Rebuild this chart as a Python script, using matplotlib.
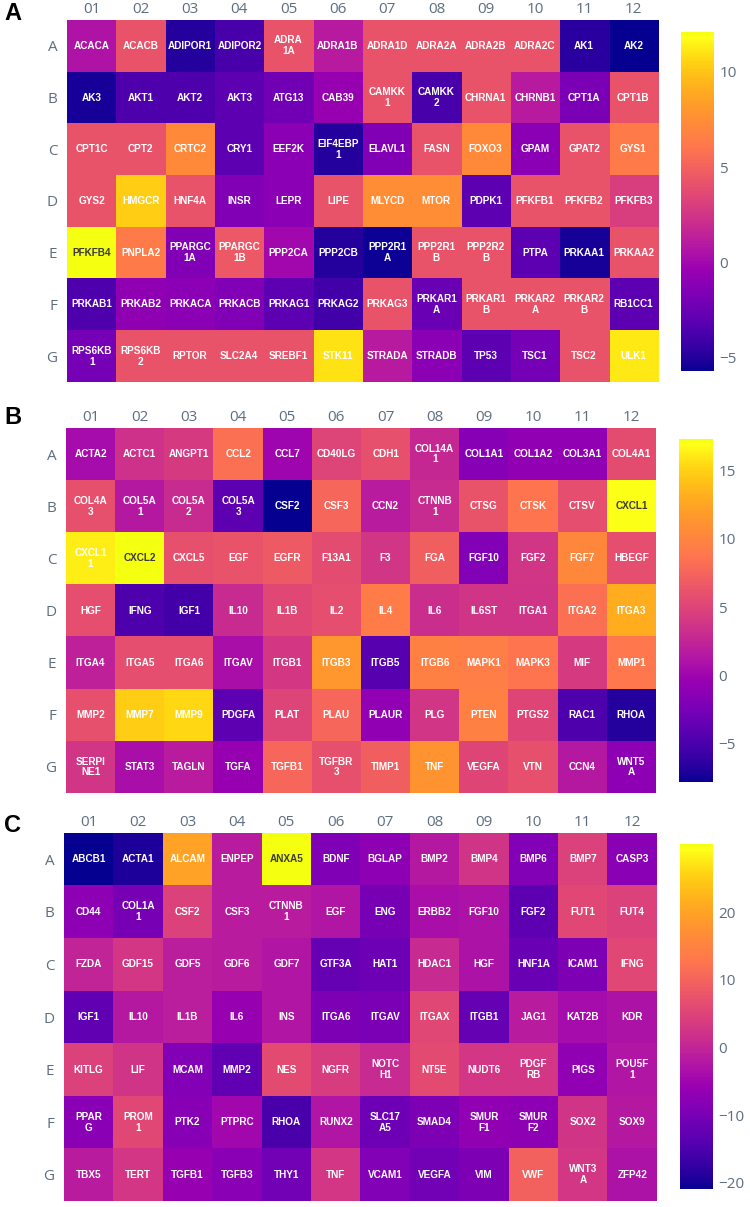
import matplotlib
matplotlib.use("Agg")
import matplotlib.pyplot as plt
import matplotlib.colors as mcolors
import numpy as np

W, H = 750, 1207

col_labels = ["01", "02", "03", "04", "05", "06", "07", "08", "09", "10", "11", "12"]
row_labels = ["A", "B", "C", "D", "E", "F", "G"]

genes_a = [
    ["ACACA", "ACACB", "ADIPOR1", "ADIPOR2", "ADRA\n1A", "ADRA1B", "ADRA1D", "ADRA2A", "ADRA2B", "ADRA2C", "AK1", "AK2"],
    ["AK3", "AKT1", "AKT2", "AKT3", "ATG13", "CAB39", "CAMKK\n1", "CAMKK\n2", "CHRNA1", "CHRNB1", "CPT1A", "CPT1B"],
    ["CPT1C", "CPT2", "CRTC2", "CRY1", "EEF2K", "EIF4EBP\n1", "ELAVL1", "FASN", "FOXO3", "GPAM", "GPAT2", "GYS1"],
    ["GYS2", "HMGCR", "HNF4A", "INSR", "LEPR", "LIPE", "MLYCD", "MTOR", "PDPK1", "PFKFB1", "PFKFB2", "PFKFB3"],
    ["PFKFB4", "PNPLA2", "PPARGC\n1A", "PPARGC\n1B", "PPP2CA", "PPP2CB", "PPP2R1\nA", "PPP2R1\nB", "PPP2R2\nB", "PTPA", "PRKAA1", "PRKAA2"],
    ["PRKAB1", "PRKAB2", "PRKACA", "PRKACB", "PRKAG1", "PRKAG2", "PRKAG3", "PRKAR1\nA", "PRKAR1\nB", "PRKAR2\nA", "PRKAR2\nB", "RB1CC1"],
    ["RPS6KB\n1", "RPS6KB\n2", "RPTOR", "SLC2A4", "SREBF1", "STK11", "STRADA", "STRADB", "TP53", "TSC1", "TSC2", "ULK1"],
]
values_a = [
    [0.6, 4.2, -5.0, -3.8, 4.2, 1.0, 4.2, 4.2, 4.2, 4.2, -4.8, -5.7],
    [-5.3, -3.5, -3.5, -3.0, -2.2, -0.5, 4.2, -3.8, 4.2, 1.0, -1.8, 4.2],
    [4.2, 4.2, 7.3, -3.0, -1.0, -5.0, -1.5, 4.2, 7.3, -1.0, 4.2, 6.3],
    [4.2, 10.3, 4.2, -1.5, -1.0, 4.2, 7.5, 7.5, -3.0, 4.2, 4.2, 3.0],
    [12.1, 6.3, -1.5, 4.5, 0.0, -5.0, -5.5, 4.2, 4.2, -3.0, -5.3, 4.2],
    [-3.5, -0.8, -1.0, -1.5, -3.0, -4.0, 4.2, -2.5, 4.2, 4.2, 4.2, -3.0],
    [-2.0, 4.2, 4.2, 4.2, 4.2, 11.0, 1.0, -1.0, -3.0, -2.0, 4.2, 11.2],
]
ticks_a = [-5, 0, 5, 10]

genes_b = [
    ["ACTA2", "ACTC1", "ANGPT1", "CCL2", "CCL7", "CD40LG", "CDH1", "COL14A\n1", "COL1A1", "COL1A2", "COL3A1", "COL4A1"],
    ["COL4A\n3", "COL5A\n1", "COL5A\n2", "COL5A\n3", "CSF2", "CSF3", "CCN2", "CTNNB\n1", "CTSG", "CTSK", "CTSV", "CXCL1"],
    ["CXCL1\n1", "CXCL2", "CXCL5", "EGF", "EGFR", "F13A1", "F3", "FGA", "FGF10", "FGF2", "FGF7", "HBEGF"],
    ["HGF", "IFNG", "IGF1", "IL10", "IL1B", "IL2", "IL4", "IL6", "IL6ST", "ITGA1", "ITGA2", "ITGA3"],
    ["ITGA4", "ITGA5", "ITGA6", "ITGAV", "ITGB1", "ITGB3", "ITGB5", "ITGB6", "MAPK1", "MAPK3", "MIF", "MMP1"],
    ["MMP2", "MMP7", "MMP9", "PDGFA", "PLAT", "PLAU", "PLAUR", "PLG", "PTEN", "PTGS2", "RAC1", "RHOA"],
    ["SERPI\nNE1", "STAT3", "TAGLN", "TGFA", "TGFB1", "TGFBR\n3", "TIMP1", "TNF", "VEGFA", "VTN", "CCN4", "WNT5\nA"],
]
values_b = [
    [0.5, 3.5, 4.2, 8.3, 0.0, 5.0, 6.0, 2.7, -1.5, -0.8, -0.8, 5.7],
    [6.0, 1.5, 3.0, -4.0, -7.8, 7.6, 1.8, 3.0, 6.2, 8.6, 5.8, 17.0],
    [16.3, 17.3, 6.0, 6.2, 6.8, 5.6, 3.8, 7.1, -1.8, 3.8, 10.3, 5.8],
    [5.8, -4.8, -5.3, 3.0, 5.3, 5.8, 9.2, 3.2, 3.7, 3.7, 8.3, 13.0],
    [2.2, 5.8, 5.8, 0.7, 4.0, 11.5, -4.3, 9.7, 9.4, 8.6, 4.2, 8.9],
    [6.0, 14.8, 15.3, -4.0, 5.0, 7.6, -0.8, 3.8, 9.7, 5.1, -4.8, -6.8],
    [3.8, 0.7, 1.8, -0.5, 7.6, 6.0, 7.1, 11.3, 5.1, 6.0, 1.5, -1.0],
]
ticks_b = [-5, 0, 5, 10, 15]

genes_c = [
    ["ABCB1", "ACTA1", "ALCAM", "ENPEP", "ANXA5", "BDNF", "BGLAP", "BMP2", "BMP4", "BMP6", "BMP7", "CASP3"],
    ["CD44", "COL1A\n1", "CSF2", "CSF3", "CTNNB\n1", "EGF", "ENG", "ERBB2", "FGF10", "FGF2", "FUT1", "FUT4"],
    ["FZDA", "GDF15", "GDF5", "GDF6", "GDF7", "GTF3A", "HAT1", "HDAC1", "HGF", "HNF1A", "ICAM1", "IFNG"],
    ["IGF1", "IL10", "IL1B", "IL6", "INS", "ITGA6", "ITGAV", "ITGAX", "ITGB1", "JAG1", "KAT2B", "KDR"],
    ["KITLG", "LIF", "MCAM", "MMP2", "NES", "NGFR", "NOTC\nH1", "NT5E", "NUDT6", "PDGF\nRB", "PIGS", "POU5F\n1"],
    ["PPAR\nG", "PROM\n1", "PTK2", "PTPRC", "RHOA", "RUNX2", "SLC17\nA5", "SMAD4", "SMUR\nF1", "SMUR\nF2", "SOX2", "SOX9"],
    ["TBX5", "TERT", "TGFB1", "TGFB3", "THY1", "TNF", "VCAM1", "VEGFA", "VIM", "VWF", "WNT3\nA", "ZFP42"],
]
values_c = [
    [-20.9, -19.5, 20.0, -1.5, 30.1, -9.0, -7.0, -2.0, 2.5, -8.6, 4.6, -7.6],
    [-7.0, -10.0, 4.6, -1.5, -1.5, -2.5, -10.0, -3.6, -3.0, -13.3, 5.6, 4.6],
    [0.0, 3.0, -1.0, -1.5, -2.5, -12.2, -11.2, 1.0, -3.0, -11.7, -9.2, 5.6],
    [-12.7, -2.0, -1.0, -6.0, -2.5, -9.2, -9.7, 5.6, -12.2, -1.5, -4.0, -3.0],
    [4.6, 2.5, -8.7, -12.7, 6.0, 4.0, 1.0, 6.0, 3.0, 3.0, -6.6, -2.5],
    [-7.6, 5.6, -8.1, -4.6, -15.3, -2.5, -11.2, -9.2, -6.6, -7.1, 2.5, -2.0],
    [-1.5, 3.0, -6.0, -7.6, -10.7, 3.0, -8.7, -10.7, -9.2, 9.7, 3.0, -3.0],
]
ticks_c = [-20, -10, 0, 10, 20]

panels = [
    ("A", genes_a, values_a, ticks_a, (67, 658, 20, 382), (681, 714, 32, 371), (4, 13)),
    ("B", genes_b, values_b, ticks_b, (66, 656, 428, 793), (679, 713, 439, 782), (4, 417)),
    ("C", genes_c, values_c, ticks_c, (64, 657, 833, 1201), (680, 713, 844, 1189), (4, 825)),
]

# plasma, slightly brightened / saturated like the reference rendering
base = plt.get_cmap("plasma")(np.linspace(0, 1, 256))[:, :3]
hsv = mcolors.rgb_to_hsv(base)
hsv[:, 1] = np.clip(hsv[:, 1] * 1.08, 0, 1)
hsv[:, 2] = np.clip(hsv[:, 2] * 1.08, 0, 1)
cmap = mcolors.ListedColormap(mcolors.hsv_to_rgb(hsv))

tick_color = "#5d6d80"
fig = plt.figure(figsize=(W / 100, H / 100), dpi=100)

for letter, genes, vals, cticks, box, cbox, lpos in panels:
    l, r, t, b = box
    ax = fig.add_axes([l / W, 1 - b / H, (r - l) / W, (b - t) / H])
    data = np.array(vals, dtype=float)
    vmin, vmax = data.min(), data.max()
    im = ax.imshow(data, cmap=cmap, vmin=vmin, vmax=vmax, aspect="auto",
                   interpolation="nearest")
    ax.set_xticks(range(len(col_labels)))
    ax.set_xticklabels(col_labels, fontsize=11, color=tick_color, family="Open Sans")
    ax.set_yticks(range(len(row_labels)))
    ax.set_yticklabels(row_labels, fontsize=11, color=tick_color, family="Open Sans")
    ax.xaxis.tick_top()
    ax.tick_params(length=0, pad=2)
    ax.tick_params(axis="y", pad=7)
    for s in ax.spines.values():
        s.set_visible(False)
    for i in range(data.shape[0]):
        for j in range(data.shape[1]):
            f = (data[i, j] - vmin) / (vmax - vmin)
            tc = "#3a3a3a" if f > 0.98 else "white"
            ax.text(j, i, genes[i][j], ha="center", va="center", color=tc,
                    fontsize=7.2, fontweight="bold", family="Liberation Sans",
                    linespacing=1.1)
    cl, cr, ct, cb_ = cbox
    cax = fig.add_axes([cl / W, 1 - cb_ / H, (cr - cl) / W, (cb_ - ct) / H])
    cbar = fig.colorbar(im, cax=cax)
    cbar.outline.set_visible(False)
    cbar.set_ticks(cticks)
    cax.tick_params(length=0, labelsize=11, colors=tick_color, pad=4)
    for lab in cax.get_yticklabels():
        lab.set_family("Open Sans")
    fig.text(lpos[0] / W, 1 - lpos[1] / H, letter, fontsize=17, fontweight="bold",
             family="Liberation Sans", ha="left", va="center", color="black")

fig.savefig("out.png", dpi=100)
